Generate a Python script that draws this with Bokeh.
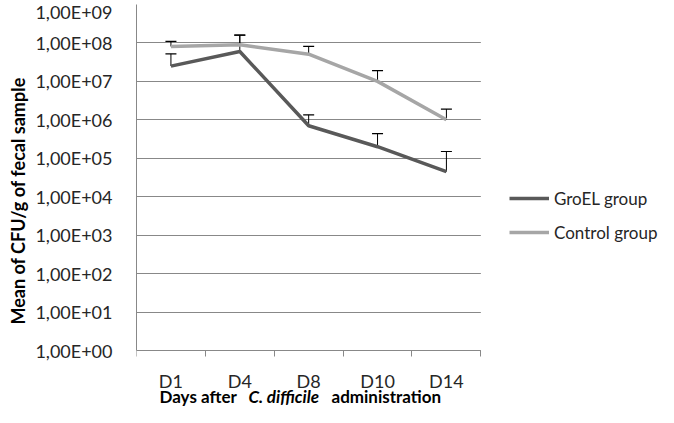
from bokeh.plotting import figure
from bokeh.models import (Range1d, FixedTicker, Whisker, TeeHead, ColumnDataSource,
                          Legend, LegendItem, Label, Title, BoxAnnotation)
from bokeh.embed import file_html
from bokeh.resources import INLINE

# ---- data ----
days = ["D1", "D4", "D8", "D10", "D14"]
groel_mean = [2.5e7, 6.0e7, 7.0e5, 2.0e5, 4.5e4]
groel_upper = [5.2e7, 1.6e8, 1.35e6, 4.4e5, 1.5e5]
control_mean = [8.1e7, 9.0e7, 5.1e7, 1.0e7, 1.0e6]
control_upper = [1.1e8, 1.6e8, 8.1e7, 1.9e7, 1.9e6]
y_tick_values = [1, 10, 100, 1000, 10**4, 10**5, 10**6, 10**7, 10**8, 10**9]
y_tick_labels = ["1,00E+00", "1,00E+01", "1,00E+02", "1,00E+03", "1,00E+04",
                 "1,00E+05", "1,00E+06", "1,00E+07", "1,00E+08", "1,00E+09"]
series_names = ["GroEL group", "Control group"]
y_title = "Mean of CFU/g of fecal sample"
x_title_parts = [("Days after", "bold"), ("C. difficile", "bold italic"),
                 ("administration", "bold")]

FONT = "Lato"
GRID = "#888888"
TEXT = "#262626"
DARK = "#595959"
LIGHT = "#A6A6A6"

n = len(days)
xpos = [i + 0.5 for i in range(n)]

# layout geometry (pixels)
W, H = 658, 407
LEFT, TOP = 127, 4
PLOT_W, PLOT_H = 345, 340          # size of the chart area (categories x 9 decades)
FRAME_W, FRAME_H = W - LEFT - 8, H - TOP - 7   # effective frame size observed
x_end = n * FRAME_W / PLOT_W
decades = 9
y_start = 10 ** (decades - FRAME_H * decades / PLOT_H)

p = figure(width=W, height=H, output_backend="svg", toolbar_location=None,
           y_axis_type="log", x_range=Range1d(0, x_end), y_range=Range1d(y_start, 1e9),
           min_border_left=LEFT, min_border_right=0, min_border_top=TOP,
           min_border_bottom=0)
p.outline_line_color = None

# x axis drawn at y = 1 inside the frame
p.xaxis.fixed_location = 1
p.xaxis.bounds = (0, n)
p.xaxis.ticker = FixedTicker(ticks=xpos, minor_ticks=list(range(n + 1)))
p.xaxis.major_label_overrides = {x: d for x, d in zip(xpos, days)}
p.xaxis.major_tick_line_color = None
p.xaxis.minor_tick_line_color = GRID
p.xaxis.minor_tick_out = 6
p.xaxis.minor_tick_in = 0
p.xaxis.axis_line_color = GRID
p.xaxis.major_label_text_font = FONT
p.xaxis.major_label_text_font_size = "18px"
p.xaxis.major_label_text_color = TEXT
p.xaxis.major_label_standoff = 13

p.yaxis.bounds = (1, 1e9)
p.yaxis.ticker = FixedTicker(ticks=y_tick_values, minor_ticks=[])
p.yaxis.major_label_overrides = {v: l for v, l in zip(y_tick_values, y_tick_labels)}
p.yaxis.major_tick_line_color = None
p.yaxis.minor_tick_line_color = None
p.yaxis.axis_line_color = GRID
p.yaxis.major_label_text_font = FONT
p.yaxis.major_label_text_font_size = "18px"
p.yaxis.major_label_text_color = TEXT
p.yaxis.major_label_standoff = 18

p.xgrid.grid_line_color = None
p.ygrid.grid_line_color = GRID
p.ygrid.ticker = FixedTicker(ticks=y_tick_values)

p.add_layout(Title(text=y_title, align="left", offset=83, standoff=8,
                   text_font=FONT, text_font_size="18px", text_font_style="bold",
                   text_color="black"), "left")

# white cover so the gridlines stop at the end of the category area
p.add_layout(BoxAnnotation(left=n, fill_color="white", fill_alpha=1.0,
                           line_alpha=0, level="underlay"))

for means, ups in [(groel_mean, groel_upper), (control_mean, control_upper)]:
    src = ColumnDataSource(dict(x=xpos, lower=means, upper=ups))
    p.add_layout(Whisker(source=src, base="x", lower="lower", upper="upper", dimension="height",
                         line_color="black", line_width=1,
                         upper_head=TeeHead(size=11, line_color="black", line_width=1.2),
                         lower_head=None))

r_g = p.line(xpos, groel_mean, line_color=DARK, line_width=3.5)
r_c = p.line(xpos, control_mean, line_color=LIGHT, line_width=3.5)

legend = Legend(items=[LegendItem(label=series_names[0], renderers=[r_g]),
                       LegendItem(label=series_names[1], renderers=[r_c])],
                location=(373, 164), orientation="vertical",
                border_line_color=None, background_fill_alpha=0,
                padding=0, margin=0, spacing=12, glyph_width=40, glyph_height=22,
                label_height=22, label_standoff=5,
                label_text_font=FONT, label_text_font_size="17px", label_text_color=TEXT)
p.add_layout(legend, "center")

# x-axis title (mixed styles), placed under the axis inside the frame
for (txt, style), xx in zip(x_title_parts, [23, 112, 195]):
    p.add_layout(Label(x=xx, y=11, x_units="screen", y_units="screen", text=txt,
                       text_align="left", text_baseline="middle",
                       text_font=FONT, text_font_size="17px", text_font_style=style,
                       text_color="black"))

open("out.html", "w").write(file_html(p, INLINE))
